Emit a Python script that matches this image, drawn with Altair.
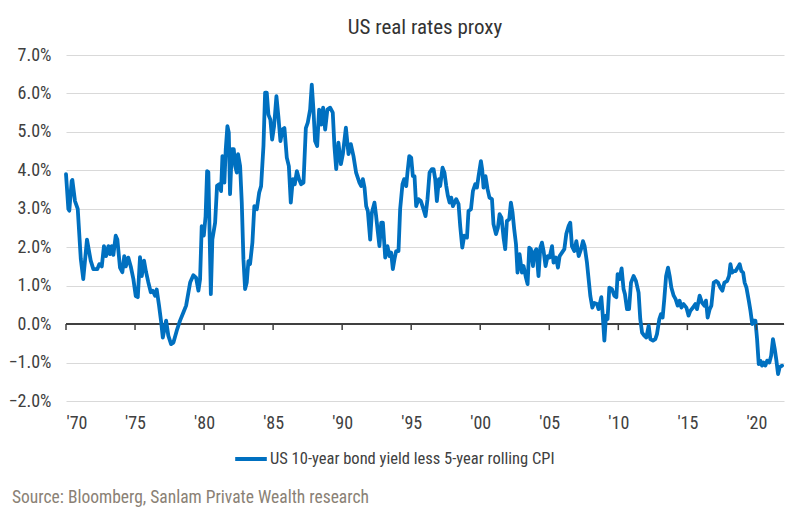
import altair as alt
import pandas as pd

TITLE = "US real rates proxy"
SERIES = "US 10-year bond yield less 5-year rolling CPI"
SOURCE = "Source: Bloomberg, Sanlam Private Wealth research"

years = [
    1970.00, 1970.17, 1970.24, 1970.41, 1970.46, 1970.65, 1970.85, 1971.07, 1971.25, 1971.52,
    1971.79, 1971.98, 1972.27, 1972.41, 1972.59, 1972.75, 1972.90, 1973.07, 1973.19, 1973.31,
    1973.43, 1973.60, 1973.72, 1973.91, 1974.08, 1974.22, 1974.33, 1974.51, 1974.69, 1974.88,
    1975.05, 1975.20, 1975.36, 1975.49, 1975.65, 1975.80, 1975.96, 1976.14, 1976.28, 1976.45,
    1976.57, 1976.74, 1976.88, 1977.01, 1977.25, 1977.41, 1977.61, 1977.78, 1978.02, 1978.26,
    1978.50, 1978.70, 1978.99, 1979.22, 1979.42, 1979.59, 1979.71, 1979.83, 1979.98, 1980.11,
    1980.22, 1980.31, 1980.49, 1980.60, 1980.80, 1980.94, 1981.09, 1981.23, 1981.33, 1981.47,
    1981.57, 1981.69, 1981.79, 1981.88, 1982.01, 1982.15, 1982.25, 1982.37, 1982.46, 1982.61,
    1982.73, 1982.85, 1982.97, 1983.09, 1983.21, 1983.33, 1983.50, 1983.64, 1983.82, 1983.99,
    1984.13, 1984.30, 1984.42, 1984.54, 1984.66, 1984.80, 1984.93, 1985.07, 1985.24, 1985.38,
    1985.53, 1985.67, 1985.82, 1985.99, 1986.14, 1986.28, 1986.43, 1986.57, 1986.72, 1986.88,
    1987.03, 1987.20, 1987.37, 1987.51, 1987.68, 1987.80, 1987.92, 1988.04, 1988.19, 1988.33,
    1988.48, 1988.62, 1988.77, 1988.93, 1989.13, 1989.32, 1989.44, 1989.57, 1989.73, 1989.91,
    1990.05, 1990.27, 1990.46, 1990.63, 1990.82, 1991.01, 1991.25, 1991.38, 1991.50, 1991.62,
    1991.74, 1991.86, 1992.03, 1992.15, 1992.34, 1992.46, 1992.59, 1992.70, 1992.83, 1992.95,
    1993.12, 1993.28, 1993.43, 1993.55, 1993.67, 1993.79, 1993.91, 1994.08, 1994.20, 1994.37,
    1994.49, 1994.64, 1994.73, 1994.86, 1995.00, 1995.12, 1995.24, 1995.36, 1995.53, 1995.70,
    1995.89, 1996.04, 1996.18, 1996.33, 1996.50, 1996.62, 1996.74, 1996.86, 1997.01, 1997.10,
    1997.27, 1997.41, 1997.54, 1997.66, 1997.78, 1997.90, 1998.02, 1998.14, 1998.26, 1998.43,
    1998.55, 1998.70, 1998.84, 1999.04, 1999.15, 1999.33, 1999.47, 1999.64, 1999.76, 1999.88,
    2000.05, 2000.14, 2000.24, 2000.38, 2000.53, 2000.67, 2000.85, 2000.96, 2001.14, 2001.28,
    2001.40, 2001.54, 2001.69, 2001.81, 2001.93, 2002.10, 2002.22, 2002.34, 2002.46, 2002.59,
    2002.70, 2002.85, 2003.02, 2003.14, 2003.31, 2003.43, 2003.55, 2003.67, 2003.82, 2003.91,
    2004.06, 2004.22, 2004.35, 2004.47, 2004.59, 2004.73, 2004.88, 2005.02, 2005.20, 2005.31,
    2005.49, 2005.63, 2005.75, 2005.92, 2006.09, 2006.23, 2006.40, 2006.52, 2006.64, 2006.81,
    2006.96, 2007.13, 2007.30, 2007.44, 2007.56, 2007.73, 2007.85, 2007.97, 2008.12, 2008.26,
    2008.46, 2008.57, 2008.77, 2008.86, 2008.99, 2009.11, 2009.22, 2009.35, 2009.54, 2009.71,
    2009.86, 2009.95, 2010.09, 2010.24, 2010.38, 2010.48, 2010.63, 2010.78, 2010.92, 2011.11,
    2011.28, 2011.47, 2011.59, 2011.72, 2011.88, 2012.03, 2012.20, 2012.32, 2012.51, 2012.68,
    2012.80, 2012.97, 2013.09, 2013.21, 2013.33, 2013.46, 2013.60, 2013.72, 2013.84, 2014.01,
    2014.15, 2014.30, 2014.44, 2014.57, 2014.73, 2014.93, 2015.09, 2015.22, 2015.41, 2015.58,
    2015.70, 2015.89, 2016.06, 2016.23, 2016.35, 2016.47, 2016.62, 2016.74, 2016.91, 2017.08,
    2017.22, 2017.39, 2017.54, 2017.68, 2017.88, 2018.02, 2018.12, 2018.24, 2018.36, 2018.50,
    2018.65, 2018.79, 2018.91, 2019.04, 2019.15, 2019.28, 2019.45, 2019.57, 2019.70, 2019.80,
    2019.93, 2020.05, 2020.17, 2020.29, 2020.41, 2020.53, 2020.65, 2020.78, 2020.94, 2021.07,
    2021.20, 2021.33, 2021.45, 2021.57, 2021.69, 2021.86,
]

real_rate = [
    3.90, 3.00, 2.95, 3.72, 3.75, 3.20, 3.00, 1.70, 1.17, 2.20,
    1.65, 1.43, 1.43, 1.56, 1.50, 2.03, 1.77, 2.03, 1.82, 2.03,
    1.80, 2.30, 2.20, 1.47, 1.35, 1.77, 1.50, 1.73, 1.50, 1.17,
    0.73, 0.70, 1.74, 1.25, 1.65, 1.35, 1.09, 0.83, 0.87, 0.74,
    0.90, 0.48, 0.09, -0.35, 0.09, -0.30, -0.52, -0.48, -0.17, 0.09,
    0.30, 0.48, 1.08, 1.27, 1.21, 0.87, 1.17, 2.55, 2.30, 2.81,
    3.98, 3.95, 0.78, 2.20, 2.64, 3.60, 3.64, 3.46, 4.37, 3.68,
    4.55, 5.15, 4.98, 3.38, 4.55, 4.55, 4.11, 3.94, 4.42, 4.11,
    3.16, 1.69, 0.91, 1.08, 1.64, 1.56, 2.12, 3.07, 2.99, 3.42,
    3.59, 4.63, 6.02, 6.02, 5.45, 5.32, 4.80, 5.15, 5.93, 5.41,
    4.76, 5.06, 5.10, 4.33, 4.11, 3.16, 3.77, 3.64, 3.98, 3.77,
    3.64, 3.68, 5.10, 5.24, 5.58, 6.23, 5.58, 4.76, 4.63, 5.58,
    5.19, 5.63, 5.06, 5.58, 5.63, 5.50, 4.63, 4.03, 4.72, 4.16,
    4.42, 5.11, 4.42, 4.68, 4.37, 3.94, 3.68, 3.59, 3.77, 3.55,
    3.07, 2.94, 2.20, 2.90, 3.16, 2.81, 2.38, 2.03, 2.64, 2.64,
    1.73, 2.03, 1.77, 1.86, 1.43, 1.69, 1.90, 1.90, 2.99, 3.64,
    3.77, 3.59, 3.94, 4.37, 4.33, 3.85, 3.85, 3.07, 3.25, 3.20,
    2.99, 2.81, 3.25, 3.94, 4.03, 4.03, 3.77, 3.20, 3.77, 3.59,
    4.07, 3.94, 3.59, 3.33, 3.16, 3.29, 3.07, 3.16, 3.25, 3.12,
    2.55, 1.99, 2.30, 2.25, 2.94, 2.99, 3.46, 3.64, 3.55, 3.85,
    4.24, 4.03, 3.55, 3.85, 3.51, 3.29, 3.25, 2.60, 2.34, 2.51,
    2.86, 2.77, 2.25, 1.95, 2.68, 2.73, 3.16, 2.90, 2.47, 2.08,
    1.34, 1.82, 1.34, 1.51, 1.21, 1.04, 1.99, 1.95, 1.51, 1.86,
    1.95, 1.25, 1.99, 2.12, 1.90, 1.51, 1.77, 1.73, 2.03, 1.60,
    1.73, 1.47, 1.77, 1.86, 1.95, 2.34, 2.55, 2.64, 2.03, 1.90,
    2.16, 1.77, 1.95, 2.16, 2.03, 1.60, 1.17, 0.74, 0.43, 0.55,
    0.52, 0.39, 0.70, 0.30, -0.43, 0.22, 0.13, 0.95, 0.91, 0.74,
    0.70, 1.30, 1.17, 1.45, 0.91, 0.78, 0.39, 0.39, 1.08, 1.25,
    1.12, 0.82, 0.13, -0.22, -0.30, -0.35, -0.04, -0.39, -0.43, -0.39,
    -0.26, 0.13, 0.26, 0.17, 0.65, 1.25, 1.47, 1.25, 0.95, 0.74,
    0.65, 0.48, 0.61, 0.43, 0.52, 0.43, 0.22, 0.35, 0.43, 0.52,
    0.39, 0.74, 0.56, 0.48, 0.61, 0.17, 0.39, 0.48, 1.08, 1.12,
    1.08, 0.95, 0.87, 1.08, 1.12, 1.25, 1.56, 1.34, 1.38, 1.38,
    1.47, 1.56, 1.38, 1.34, 1.08, 0.95, 0.61, 0.35, 0.00, 0.09,
    0.09, -0.39, -1.04, -0.95, -1.08, -1.00, -1.08, -0.95, -1.00, -0.82,
    -0.39, -0.65, -0.95, -1.30, -1.12, -1.08,
]

tick_years = [1970, 1975, 1980, 1985, 1990, 1995, 2000, 2005, 2010, 2015, 2020]
tick_base = [0] * len(tick_years)
y_ticks = [-2, -1, 0, 1, 2, 3, 4, 5, 6, 7]

FONT = "Roboto Condensed, Liberation Sans Narrow, Arial Narrow, sans-serif"
BLUE = "#0070C0"
TEXT = "#404040"

df = pd.DataFrame({"year": years, "value": real_rate, "series": SERIES})
ticks_df = pd.DataFrame({"year": tick_years, "base": tick_base})
src_df = pd.DataFrame({"t": [SOURCE]})

x_scale = alt.Scale(domain=[1970, 2022], nice=False, zero=False)
y_scale = alt.Scale(domain=[-2, 7], nice=False)

x_axis = alt.Axis(
    values=tick_years,
    labelExpr="\"'\" + substring(toString(datum.value), 2, 4)",
    ticks=False,
    tickSize=0,
    domain=False,
    grid=False,
    labelPadding=13,
    labelFontSize=18,
    labelFont=FONT,
    labelColor=TEXT,
    labelOverlap=False,
    title=None,
)
y_axis = alt.Axis(
    values=y_ticks,
    labelExpr="format(datum.value, '.1f') + '%'",
    ticks=False,
    tickSize=0,
    domain=False,
    grid=True,
    gridColor="#d9d9d9",
    gridWidth=1,
    labelPadding=15,
    labelFontSize=18,
    labelFont=FONT,
    labelColor=TEXT,
    labelOverlap=False,
    title=None,
)

zero_line = alt.Chart(ticks_df).mark_rule(color="#404040", strokeWidth=1.5).encode(
    y=alt.Y("base:Q", scale=y_scale, axis=y_axis)
)

line = alt.Chart(df).mark_line(strokeWidth=3.8, strokeJoin="round", strokeCap="round").encode(
    x=alt.X("year:Q", scale=x_scale, axis=x_axis),
    y=alt.Y("value:Q", scale=y_scale, axis=y_axis),
    color=alt.Color(
        "series:N",
        scale=alt.Scale(range=[BLUE]),
        legend=alt.Legend(
            title=None,
            orient="none",
            legendX=167,
            legendY=386,
            symbolType="stroke",
            symbolSize=1000,
            symbolStrokeWidth=4,
            labelFontSize=16.5,
            labelFont=FONT,
            labelColor=TEXT,
            labelOffset=1,
            labelLimit=0,
        ),
    ),
)

tick_marks = alt.Chart(ticks_df).mark_rule(color="#404040", strokeWidth=1.5, y2Offset=6).encode(
    x=alt.X("year:Q", scale=x_scale, axis=x_axis),
    y=alt.Y("base:Q", scale=y_scale, axis=y_axis),
    y2="base:Q",
)

source = alt.Chart(src_df).mark_text(
    align="left", baseline="middle", fontSize=17.5, font=FONT, color="#8a8175"
).encode(x=alt.value(-54), y=alt.value(443), text="t:N")

chart = (
    alt.layer(zero_line, line, tick_marks, source)
    .properties(
        width=718,
        height=346,
        title=alt.TitleParams(
            TITLE, fontSize=21, font=FONT, color="#333333", fontWeight="normal", offset=8
        ),
        padding={"left": 66, "top": 55, "right": 16, "bottom": 120},
        autosize=alt.AutoSizeParams(type="none"),
    )
    .configure(background="white", view=alt.ViewConfig(strokeWidth=0, stroke="transparent"))
)

chart.save("out.html", embed_options={"renderer": "svg", "actions": False})
